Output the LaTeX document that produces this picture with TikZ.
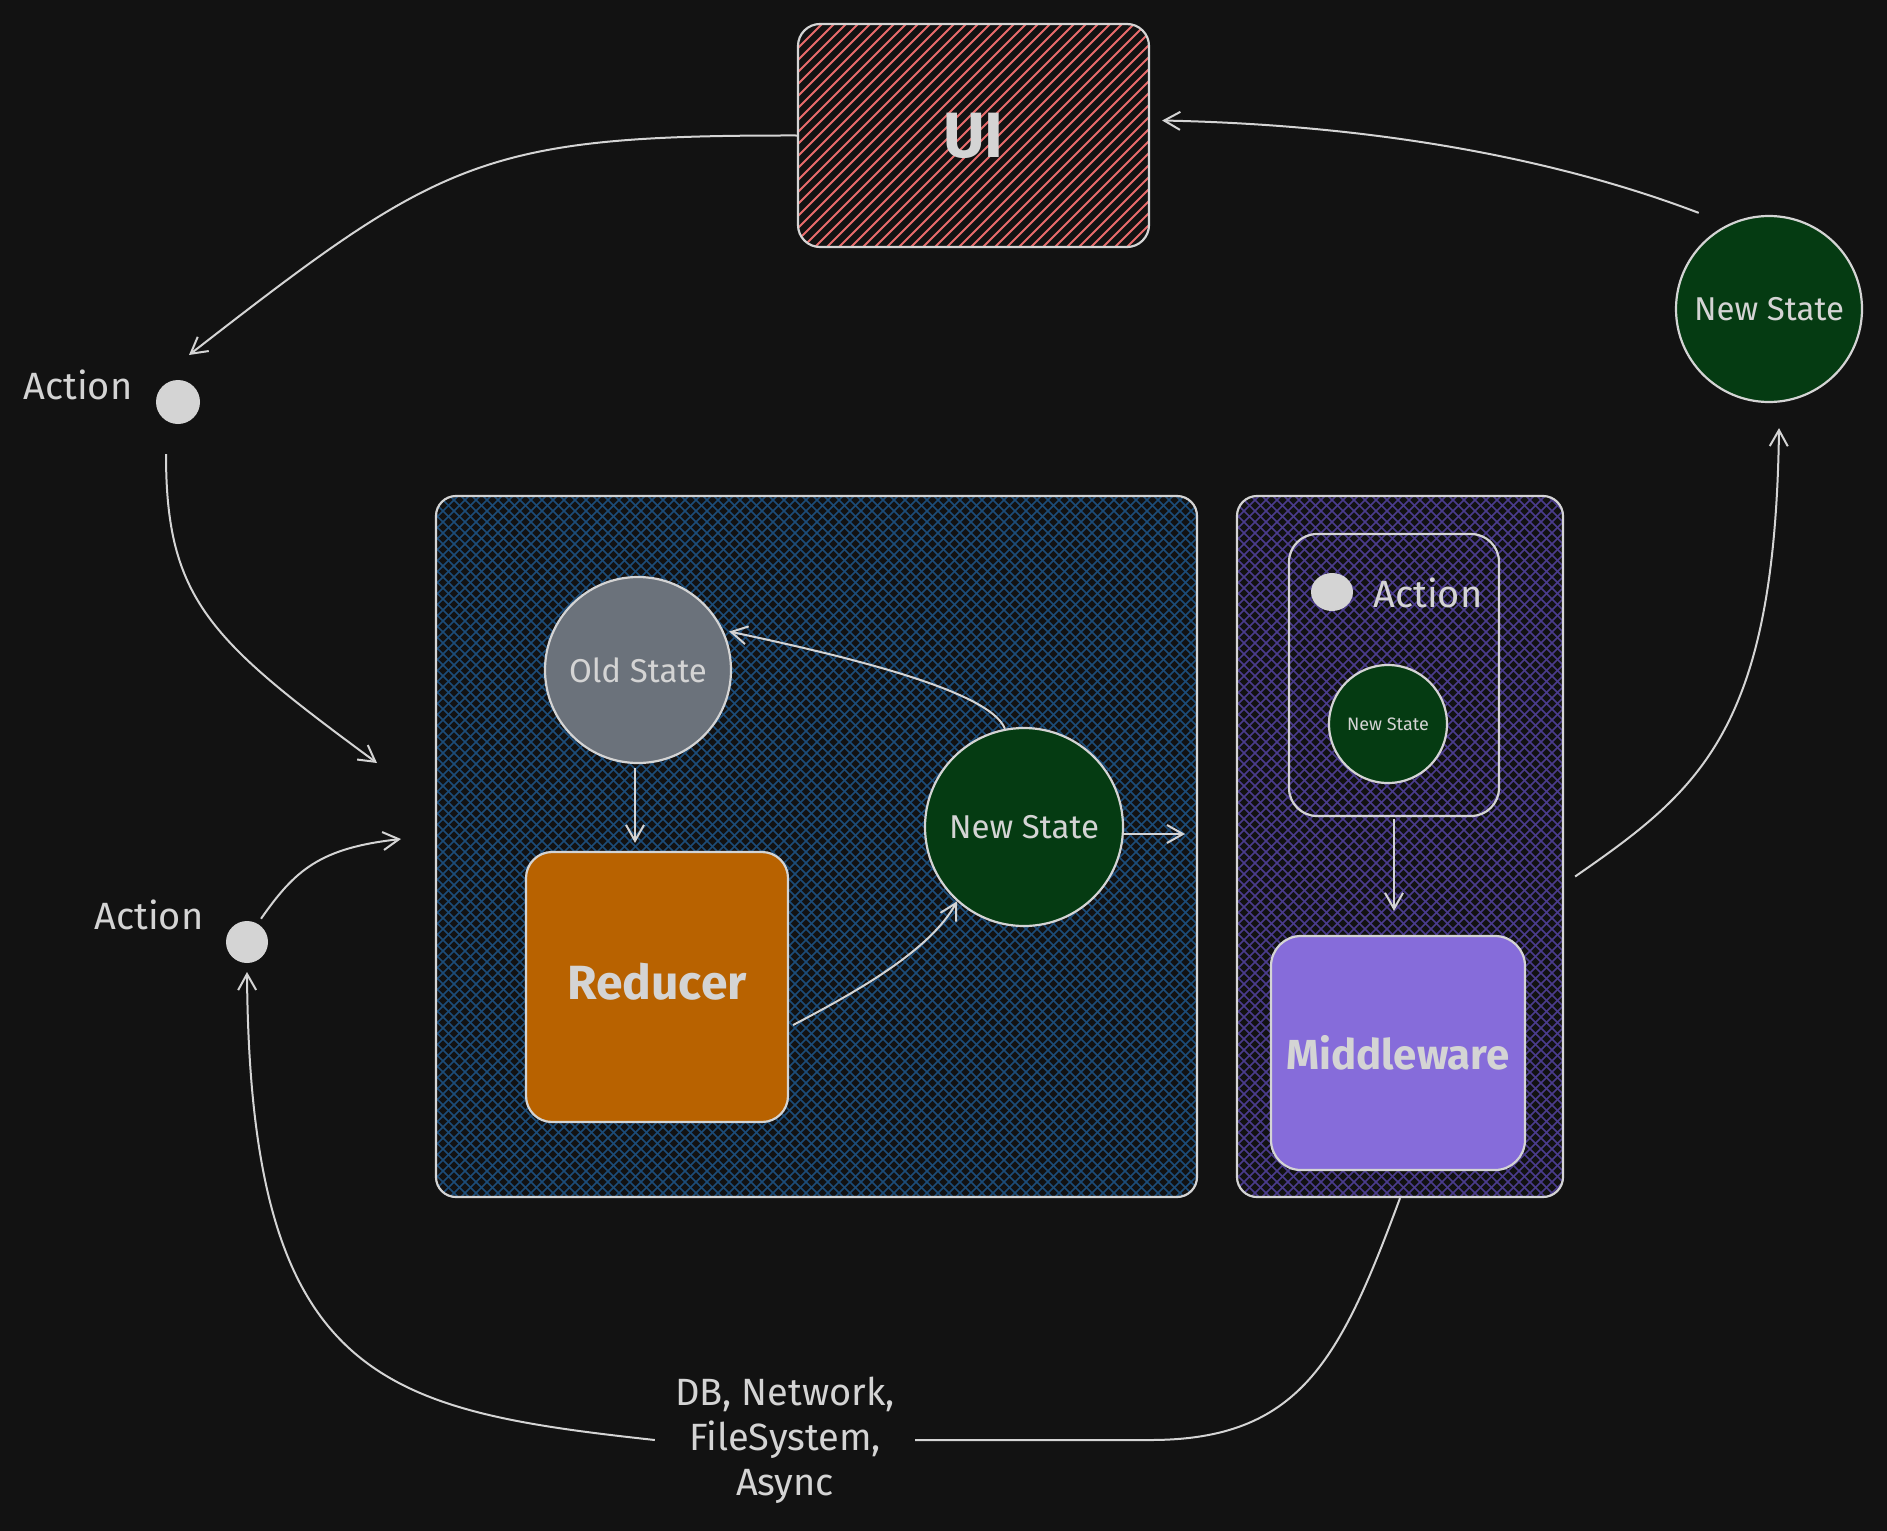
\documentclass[tikz,border=0pt]{standalone}
\usepackage{fontspec}
\setmainfont{Fira Sans}
\usetikzlibrary{arrows.meta,shapes.geometric}
\definecolor{bgc}{HTML}{121212}
\definecolor{ink}{HTML}{D4D4D4}
\definecolor{uihatch}{HTML}{E86C6C}
\definecolor{bluehatch}{HTML}{1C4C78}
\definecolor{purphatch}{HTML}{4A3C8C}
\definecolor{oldfill}{HTML}{6B727B}
\definecolor{redfill}{HTML}{B86200}
\definecolor{nsfill}{HTML}{053B12}
\definecolor{midfill}{HTML}{866CDA}
\newcommand\hfs[1]{\fontsize{#1}{#1}\selectfont}
\begin{document}
\begin{tikzpicture}[x=1pt,y=-1pt,
  outline/.style={draw=ink, line width=2.2pt, text=ink},
  box/.style={outline, rectangle, rounded corners=#1, inner sep=0pt},
  statec/.style={outline, circle, fill=nsfill, inner sep=0pt, minimum size=#1},
  dot/.style={circle, fill=ink, inner sep=0pt, minimum size=#1},
  lab/.style={text=ink, inner sep=0pt},
  arr/.style={draw=ink, line width=2pt, -{Straight Barb[length=16pt,width=18pt]}},
  link/.style={draw=ink, line width=2pt}
]
\fill[bgc] (0,0) rectangle (1887,1531);
\useasboundingbox (0,0) rectangle (1887,1531);

% hatching
\begin{scope}
\clip[rounded corners=22pt] (798,24) rectangle (1149,247);
\foreach \c in {0,12,...,580} \draw[uihatch, line width=1.8pt] (798+\c,24) -- ++(-223,223);
\end{scope}
\begin{scope}
\clip[rounded corners=20pt] (436,496) rectangle (1197,1197);
\foreach \c in {0,11,...,1470} {
  \draw[bluehatch, line width=1.5pt] (436+\c,496) -- ++(-701,701);
  \draw[bluehatch, line width=1.5pt] (436+\c-701,496) -- ++(701,701);
}
\end{scope}
\begin{scope}
\clip[rounded corners=20pt] (1237,496) rectangle (1563,1197);
\foreach \c in {0,11,...,1035} {
  \draw[purphatch, line width=1.5pt] (1237+\c,496) -- ++(-701,701);
  \draw[purphatch, line width=1.5pt] (1237+\c-701,496) -- ++(701,701);
}
\end{scope}

% nodes
\node[box=22pt, minimum width=351pt, minimum height=223pt, font=\hfs{64}\bfseries] (ui) at (973.5,135.5) {UI};
\node[box=20pt, minimum width=761pt, minimum height=701pt] (bgrp) at (816.5,846.5) {};
\node[box=20pt, minimum width=326pt, minimum height=701pt] (pgrp) at (1400,846.5) {};
\node[box=28pt, minimum width=210pt, minimum height=282pt] (ibox) at (1394,675) {};
\node[box=26pt, fill=redfill, minimum width=262pt, minimum height=270pt, font=\hfs{48}\bfseries] (red) at (657,987) {\raisebox{12pt}{Reducer}};
\node[box=30pt, fill=midfill, minimum width=254pt, minimum height=234pt, font=\hfs{42}\bfseries] (mid) at (1398,1053) {Middleware};
\node[statec=186pt, fill=oldfill, font=\hfs{33}] (old) at (638,670) {Old State};
\node[statec=198pt, font=\hfs{33}] (ns1) at (1024,827) {New State};
\node[statec=186pt, font=\hfs{33}] (ns2) at (1769,309) {New State};
\node[statec=118pt, font=\hfs{18}] (ns3) at (1388,724) {New State};
\node[dot=44pt] (act1) at (178,402) {};
\node[dot=42pt] (act2) at (247,942) {};
\node[ellipse, fill=ink, inner sep=0pt, minimum width=42pt, minimum height=38pt] (act3) at (1332,592) {};
\node[lab, font=\hfs{38}] (lab1) at (78,385) {Action};
\node[lab, font=\hfs{38}] (lab2) at (149,915) {Action};
\node[lab, font=\hfs{38}] (lab3) at (1428,593) {Action};
\node[lab, align=center, font=\fontsize{38}{45}\selectfont] (io) at (785,1440) {DB, Network,\\FileSystem,\\Async};

\coordinate (in1) at (377,763);
\coordinate (in2) at (401,839);
\coordinate (out1) at (1185,834);

% connectors
\draw[arr] (ui.west) .. controls (480,135) and (440,160) .. ([shift={(11,-47)}]act1.center);
\draw[arr] ([shift={(-12,52)}]act1.center) .. controls (166,600) and (210,640) .. (in1);
\draw[arr, shorten <=6pt] (act2.60) .. controls (295,870) and (320,848) .. (in2);
\draw[arr] ([xshift=-20pt]io.west) .. controls (380,1410) and (250,1380) .. ([yshift=-30pt]act2.center);
\draw[link] (pgrp.south) .. controls (1340,1360) and (1300,1440) .. (1150,1440) -- ([xshift=20pt]io.east);
\draw[arr] ([shift={(11,30)}]pgrp.east) .. controls (1700,790) and (1775,730) .. ([shift={(10,25)}]ns2.south);
\draw[arr] ([shift={(-15,-20)}]ns2.126) .. controls (1560,160) and (1380,125) .. ([shift={(12,-15)}]ui.east);
\draw[arr, shorten <=4pt, shorten >=8pt] ([xshift=-3pt]old.south) -- ([xshift=-3pt]old.south |- red.north);
\draw[arr] ([shift={(4,38)}]red.east) .. controls (860,990) and (930,950) .. (ns1.228);
\draw[arr, shorten >=6pt] (ns1.101) .. controls (990,690) and (840,655) .. (old.25);
\draw[arr] ([yshift=-7pt]ns1.east) -- (out1);
\draw[arr, shorten <=2pt, shorten >=24pt] (ibox.south) -- (ibox.south |- mid.north);
\end{tikzpicture}
\end{document}
